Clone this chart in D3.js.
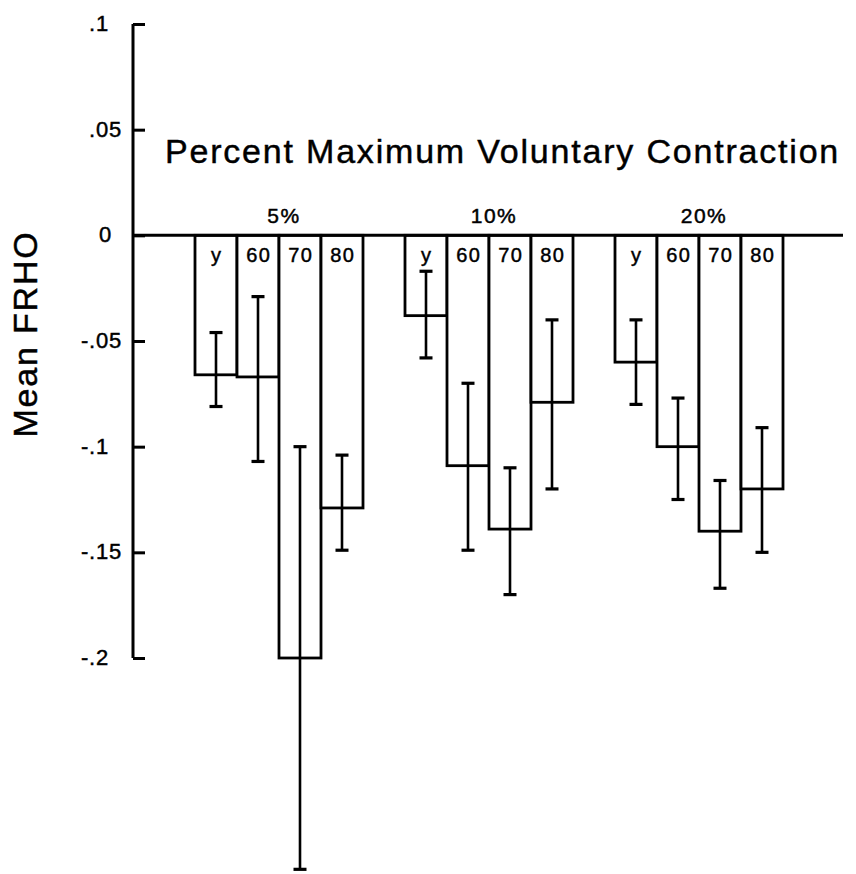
<!DOCTYPE html>
<html>
<head>
<meta charset="utf-8">
<script src="https://cdn.jsdelivr.net/npm/d3@7"></script>
<style>
  html, body { margin: 0; padding: 0; background: #fff; }
  svg { display: block; font-family: "Liberation Sans", Arial, Helvetica, sans-serif; }
  svg text { stroke: #000; stroke-width: 0.45px; fill: #000; }
</style>
</head>
<body>
<div id="chart"></div>
<script>
// Mean FRHO by contraction level and age group
const groups = ["5%", "10%", "20%"];
const ages = ["y", "60", "70", "80"];

// one row per contraction level, one entry per age group
const meanFRHO = [
  [-0.066, -0.067, -0.200, -0.129],
  [-0.038, -0.109, -0.139, -0.079],
  [-0.060, -0.100, -0.140, -0.120]
];
const errTop = [
  [-0.046, -0.029, -0.100, -0.104],
  [-0.017, -0.070, -0.110, -0.040],
  [-0.040, -0.077, -0.116, -0.091]
];
const errBottom = [
  [-0.081, -0.107, -0.300, -0.149],
  [-0.058, -0.149, -0.170, -0.120],
  [-0.080, -0.125, -0.167, -0.150]
];

const yTicks = [0.1, 0.05, 0, -0.05, -0.1, -0.15, -0.2];
const yTickLabels = [".1", ".05", "0", "-.05", "-.1", "-.15", "-.2"];

const W = 856, H = 874;
const axisX = 133;

const svg = d3.select("#chart").append("svg")
  .attr("width", W)
  .attr("height", H);

const y = d3.scaleLinear().domain([0.1, -0.2]).range([24, 658]);

const x0 = d3.scaleBand()
  .domain(groups)
  .range([195, 783])
  .paddingInner(0.2)
  .paddingOuter(0);

const x1 = d3.scaleBand()
  .domain(ages)
  .range([0, x0.bandwidth()])
  .padding(0);

// flatten to rows
const rows = [];
groups.forEach((g, gi) => {
  ages.forEach((a, ai) => {
    rows.push({ group: g, age: a, mean: meanFRHO[gi][ai], hi: errTop[gi][ai], lo: errBottom[gi][ai] });
  });
});

// bars
const bar = svg.append("g").selectAll("g.bar")
  .data(rows)
  .enter()
  .append("g")
  .attr("class", "bar")
  .attr("transform", d => `translate(${x0(d.group) + x1(d.age)},0)`);

bar.append("rect")
  .attr("x", 0)
  .attr("y", y(0))
  .attr("width", x1.bandwidth())
  .attr("height", d => y(d.mean) - y(0))
  .attr("fill", "#fff")
  .attr("stroke", "#000")
  .attr("stroke-width", 2.8);

// error bars
const cx = x1.bandwidth() / 2;
bar.append("line")
  .attr("x1", cx).attr("x2", cx)
  .attr("y1", d => y(d.hi)).attr("y2", d => y(d.lo))
  .attr("stroke", "#000").attr("stroke-width", 2.6);
bar.selectAll("line.cap")
  .data(d => [d.hi, d.lo])
  .enter()
  .append("line")
  .attr("class", "cap")
  .attr("x1", cx - 6.5).attr("x2", cx + 6.5)
  .attr("y1", v => y(v)).attr("y2", v => y(v))
  .attr("stroke", "#000").attr("stroke-width", 3.2);

// age labels inside the bars
bar.append("text")
  .attr("x", cx + 0.8)
  .attr("y", y(0) + 27)
  .attr("text-anchor", "middle")
  .attr("font-size", 20)
  .attr("letter-spacing", 1.5)
  .text(d => d.age);

// zero line
svg.append("line")
  .attr("x1", axisX).attr("x2", 843)
  .attr("y1", y(0)).attr("y2", y(0))
  .attr("stroke", "#000").attr("stroke-width", 3);

// group labels
svg.append("g").selectAll("text")
  .data(groups)
  .enter()
  .append("text")
  .attr("x", d => x0(d) + x0.bandwidth() / 2 + 5)
  .attr("y", y(0) - 12)
  .attr("text-anchor", "middle")
  .attr("font-size", 21)
  .attr("letter-spacing", 1.5)
  .text(d => d);

// y axis, ticks pointing inward
const yAxis = d3.axisRight(y)
  .tickValues(yTicks)
  .tickSize(12)
  .tickFormat((d, i) => yTickLabels[i]);

const ax = svg.append("g")
  .attr("transform", `translate(${axisX},0)`)
  .call(yAxis);

ax.select(".domain")
  .attr("d", `M0,${y(0.1)}V${y(-0.2)}`)
  .attr("stroke-width", 3);
ax.selectAll(".tick line").attr("stroke-width", 3);

// labels lined up on the decimal point, as in the printed figure
ax.selectAll(".tick text")
  .attr("x", -44)
  .attr("dx", (d, i) => {
    const s = yTickLabels[i];
    if (s.startsWith("-")) return "-0.37em";
    if (!s.includes(".")) return "0.45em";
    return 0;
  })
  .attr("dy", "0.3em")
  .attr("text-anchor", "start")
  .attr("font-size", 22)
  .attr("letter-spacing", 0.8)
  .attr("font-family", "Liberation Sans, Arial, sans-serif");

// title
svg.append("text")
  .attr("x", 165)
  .attr("y", 163)
  .attr("font-size", 34)
  .attr("letter-spacing", 1.8)
  .text("Percent Maximum Voluntary Contraction");

// y axis title
svg.append("text")
  .attr("transform", `translate(37,334) rotate(-90)`)
  .attr("text-anchor", "middle")
  .attr("font-size", 34)
  .attr("letter-spacing", 1.8)
  .text("Mean FRHO");
</script>
</body>
</html>
